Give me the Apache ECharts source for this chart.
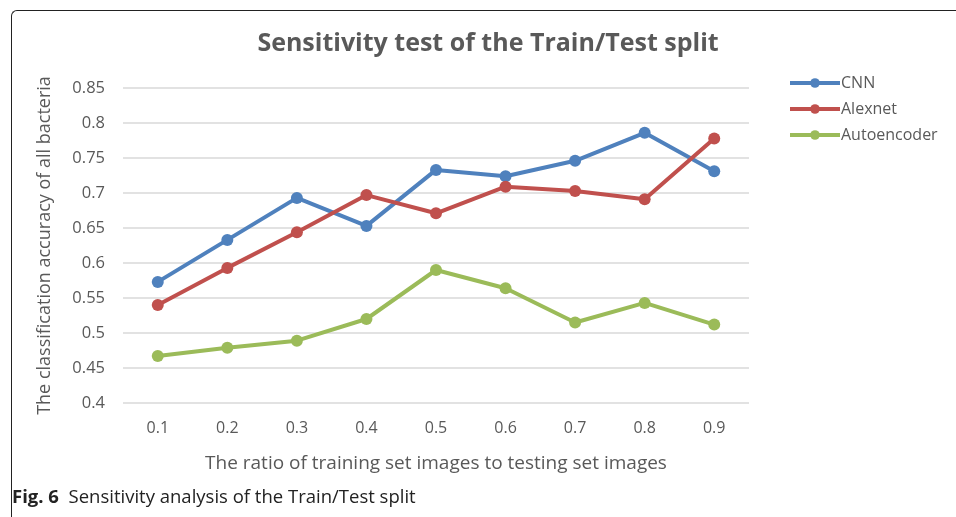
<!DOCTYPE html>
<html>
<head>
<meta charset="utf-8">
<script src="https://cdn.jsdelivr.net/npm/echarts@6/dist/echarts.min.js"></script>
<style>
  html, body { margin: 0; padding: 0; background: #fff; }
  #frame {
    position: absolute; left: 11px; top: 10px; width: 960px; height: 520px;
    border-left: 1.5px solid #222; border-top: 1.5px solid #222;
    border-top-left-radius: 6px;
  }
  #chart { position: absolute; left: 0; top: 0; width: 956px; height: 517px; }
</style>
</head>
<body>
<div id="frame"></div>
<div id="chart"></div>
<script>
const ratios = ['0.1', '0.2', '0.3', '0.4', '0.5', '0.6', '0.7', '0.8', '0.9'];
const cnn = [0.573, 0.633, 0.693, 0.653, 0.733, 0.724, 0.746, 0.786, 0.731];
const alexnet = [0.540, 0.593, 0.644, 0.697, 0.671, 0.709, 0.703, 0.691, 0.778];
const autoencoder = [0.467, 0.479, 0.489, 0.520, 0.590, 0.564, 0.515, 0.543, 0.512];

const font = 'Open Sans';
const grey = '#595959';

function line(name, data, color) {
  return {
    name: name,
    type: 'line',
    data: data,
    symbol: 'circle',
    symbolSize: 12,
    lineStyle: { width: 4, color: color },
    itemStyle: { color: color }
  };
}

const myChart = echarts.init(document.getElementById('chart'));
myChart.setOption({
  animation: false,
  textStyle: { fontFamily: font },
  title: {
    text: 'Sensitivity test of the Train/Test split',
    left: 483, top: 26, textAlign: 'center',
    textStyle: { fontSize: 25, fontWeight: 'bold', color: grey, fontFamily: font }
  },
  legend: {
    orient: 'vertical',
    left: 783, top: 70,
    itemWidth: 50, itemHeight: 12, itemGap: 10,
    lineStyle: { width: 4 },
    textStyle: { fontSize: 16, color: grey, padding: [0, 0, 0, -4] },
    data: ['CNN', 'Alexnet', 'Autoencoder']
  },
  grid: { left: 123, right: 207, top: 88, bottom: 114 },
  xAxis: {
    type: 'category',
    data: ratios,
    boundaryGap: true,
    axisLine: { show: false },
    axisTick: { show: false },
    axisLabel: { fontSize: 16, color: grey, margin: 17 },
    name: 'The ratio of training set images to testing set images',
    nameLocation: 'middle', nameGap: 51,
    nameTextStyle: { fontSize: 19, color: grey }
  },
  yAxis: {
    type: 'value',
    min: 0.4, max: 0.85, interval: 0.05,
    axisLine: { show: false },
    axisTick: { show: false },
    splitLine: { lineStyle: { color: '#d9d9d9', width: 1.5 } },
    axisLabel: { fontSize: 16.5, color: grey, margin: 18 },
    name: 'The classification accuracy of all bacteria',
    nameLocation: 'middle', nameGap: 69,
    nameTextStyle: { fontSize: 18, color: grey }
  },
  graphic: [{
    type: 'text',
    left: 12, top: 488,
    style: {
      text: '{b|Fig. 6}  Sensitivity analysis of the Train/Test split',
      fontSize: 18.5, fontFamily: font, fill: '#222',
      rich: { b: { fontWeight: 'bold', fontSize: 18.5, fontFamily: font, fill: '#222' } }
    }
  }],
  series: [
    line('CNN', cnn, '#4f81bd'),
    line('Alexnet', alexnet, '#c0504d'),
    line('Autoencoder', autoencoder, '#9bbb59')
  ]
});
</script>
</body>
</html>
